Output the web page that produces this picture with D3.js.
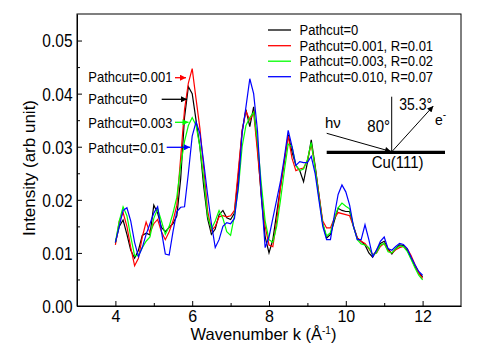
<!DOCTYPE html>
<html>
<head>
<meta charset="utf-8">
<script src="https://cdn.jsdelivr.net/npm/d3@7"></script>
<style>
  html, body { margin: 0; padding: 0; background: #fff; }
  svg { display: block; }
  text { font-family: Arial, "Liberation Sans", sans-serif; fill: #000; }
</style>
</head>
<body>
<svg id="chart" width="500" height="360"></svg>
<script>
// ---- data ----
const kValues = [4.0,4.1,4.2,4.3,4.4,4.5,4.6,4.7,4.8,4.9,5.0,5.1,5.2,5.3,5.4,5.5,5.6,5.7,5.8,5.9,
  6.0,6.1,6.2,6.3,6.4,6.5,6.6,6.7,6.8,6.9,7.0,7.1,7.2,7.3,7.4,7.5,7.6,7.7,7.8,7.9,
  8.0,8.1,8.2,8.3,8.4,8.5,8.6,8.7,8.8,8.9,9.0,9.1,9.2,9.3,9.4,9.5,9.6,9.7,9.8,9.9,
  10.0,10.1,10.2,10.3,10.4,10.5,10.6,10.7,10.8,10.9,11.0,11.1,11.2,11.3,11.4,11.5,11.6,11.7,11.8,11.9,12.0];

const pathcut0 = [0.0119,0.0150,0.0162,0.0135,0.0105,0.0090,0.0105,0.0133,0.0137,0.0134,
  0.0190,0.0175,0.0148,0.0140,0.0148,0.0155,0.0170,0.0240,0.0355,0.0413,
  0.0400,0.0350,0.0300,0.0225,0.0165,0.0135,0.0145,0.0172,0.0180,0.0166,
  0.0163,0.0175,0.0245,0.0330,0.0370,0.0338,0.0375,0.0300,0.0205,0.0130,
  0.0100,0.0125,0.0175,0.0225,0.0272,0.0323,0.0290,0.0265,0.0255,0.0234,
  0.0270,0.0313,0.0265,0.0210,0.0155,0.0128,0.0135,0.0160,0.0184,0.0180,
  0.0178,0.0178,0.0150,0.0128,0.0122,0.0115,0.0100,0.0092,0.0105,0.0118,
  0.0122,0.0108,0.0098,0.0108,0.0115,0.0114,0.0105,0.0090,0.0075,0.0063,0.0055];

const pathcut001 = [0.0115,0.0160,0.0176,0.0150,0.0110,0.0076,0.0090,0.0130,0.0158,0.0138,
  0.0155,0.0163,0.0140,0.0125,0.0140,0.0160,0.0190,0.0280,0.0370,0.0420,
  0.0447,0.0390,0.0335,0.0260,0.0180,0.0142,0.0150,0.0168,0.0170,0.0168,
  0.0170,0.0180,0.0255,0.0330,0.0367,0.0350,0.0365,0.0290,0.0210,0.0150,
  0.0115,0.0112,0.0160,0.0225,0.0275,0.0320,0.0278,0.0255,0.0258,0.0260,
  0.0275,0.0305,0.0262,0.0210,0.0160,0.0147,0.0147,0.0165,0.0176,0.0174,
  0.0172,0.0170,0.0150,0.0128,0.0122,0.0118,0.0108,0.0097,0.0100,0.0112,
  0.0118,0.0105,0.0100,0.0106,0.0110,0.0112,0.0108,0.0095,0.0078,0.0062,0.0052];

const pathcut003 = [0.0120,0.0160,0.0187,0.0170,0.0130,0.0095,0.0095,0.0110,0.0122,0.0130,
  0.0165,0.0183,0.0160,0.0135,0.0150,0.0175,0.0205,0.0265,0.0310,0.0340,
  0.0355,0.0340,0.0300,0.0240,0.0170,0.0145,0.0160,0.0180,0.0165,0.0140,
  0.0133,0.0170,0.0220,0.0300,0.0340,0.0355,0.0365,0.0310,0.0230,0.0160,
  0.0125,0.0120,0.0150,0.0200,0.0255,0.0305,0.0300,0.0265,0.0255,0.0258,
  0.0275,0.0308,0.0260,0.0205,0.0155,0.0132,0.0138,0.0165,0.0185,0.0194,
  0.0188,0.0183,0.0150,0.0125,0.0117,0.0115,0.0110,0.0096,0.0100,0.0115,
  0.0118,0.0102,0.0100,0.0108,0.0113,0.0112,0.0103,0.0088,0.0072,0.0058,0.0049];

const pathcut010 = [0.0120,0.0150,0.0180,0.0185,0.0160,0.0120,0.0093,0.0110,0.0135,0.0155,
  0.0175,0.0187,0.0140,0.0098,0.0096,0.0140,0.0178,0.0186,0.0187,0.0250,
  0.0320,0.0347,0.0325,0.0270,0.0210,0.0155,0.0110,0.0125,0.0150,0.0157,
  0.0155,0.0165,0.0225,0.0325,0.0375,0.0428,0.0400,0.0330,0.0210,0.0110,
  0.0130,0.0165,0.0200,0.0235,0.0280,0.0331,0.0300,0.0265,0.0272,0.0270,
  0.0270,0.0282,0.0250,0.0200,0.0150,0.0125,0.0125,0.0170,0.0210,0.0228,
  0.0215,0.0190,0.0150,0.0125,0.0125,0.0153,0.0125,0.0093,0.0105,0.0122,
  0.0130,0.0108,0.0105,0.0112,0.0118,0.0116,0.0108,0.0092,0.0078,0.0065,0.0058];

const seriesNames = ["Pathcut=0", "Pathcut=0.001, R=0.01", "Pathcut=0.003, R=0.02", "Pathcut=0.010, R=0.07"];
const seriesValues = [pathcut0, pathcut001, pathcut003, pathcut010];
const seriesColors = ["#000000", "#ff0000", "#00ff00", "#0000ff"];

const calloutLabels = ["Pathcut=0.001", "Pathcut=0", "Pathcut=0.003", "Pathcut=0.01"];
const calloutSeries = [1, 0, 2, 3];

const xMajorTicks = [4, 6, 8, 10, 12];
const xMinorTicks = [5, 7, 9, 11];
const yMajorTicks = [0, 0.01, 0.02, 0.03, 0.04, 0.05];
const yMinorTicks = [0.005, 0.015, 0.025, 0.035, 0.045];

// ---- layout ----
const svg = d3.select("#chart");
const L = 77, R = 461, T = 14, B = 306;
const x = d3.scaleLinear().domain([3, 13]).range([L, R]);
const y = d3.scaleLinear().domain([0, 0.055]).range([B, T]);

// text helper: text anchored at (px,py) and stretched vertically a little
function tallText(parent, px, py, size, sy, str) {
  return parent.append("text").attr("transform", `translate(${px},${py}) scale(1,${sy})`)
    .attr("font-size", size).text(str);
}

// frame
svg.append("rect").attr("x", L).attr("y", T).attr("width", R - L).attr("height", B - T)
  .attr("fill", "none").attr("stroke", "#000").attr("stroke-width", 1);

// axes
const gx = svg.append("g").attr("transform", `translate(0,${B})`)
  .call(d3.axisBottom(x).tickValues(xMajorTicks).tickSize(-5).tickSizeOuter(0).tickPadding(4).tickFormat(d3.format("d")));
svg.append("g").attr("transform", `translate(0,${B})`)
  .call(d3.axisBottom(x).tickValues(xMinorTicks).tickSize(-3).tickSizeOuter(0).tickFormat(""))
  .select(".domain").remove();
const gy = svg.append("g").attr("transform", `translate(${L},0)`)
  .call(d3.axisLeft(y).tickValues(yMajorTicks).tickSize(-5).tickSizeOuter(0).tickPadding(4).tickFormat(d3.format(".2f")));
svg.append("g").attr("transform", `translate(0,0)`);
svg.append("g").attr("transform", `translate(${L},0)`)
  .call(d3.axisLeft(y).tickValues(yMinorTicks).tickSize(-3).tickSizeOuter(0).tickFormat(""))
  .select(".domain").remove();

svg.selectAll(".tick line, .domain").attr("stroke", "#000").attr("stroke-width", 1);
gx.selectAll(".tick text").attr("font-size", 16).attr("font-family", "Arial, 'Liberation Sans', sans-serif")
  .attr("y", 4).attr("dy", "0.72em");
gy.selectAll(".tick text").attr("font-size", 15.5).attr("font-family", "Arial, 'Liberation Sans', sans-serif")
  .attr("x", -4.5).attr("y", 0).attr("dy", "0.36em").attr("transform", "scale(1,1.15)");

// axis titles
const xt = svg.append("text").attr("x", 263.5).attr("y", 339.5).attr("text-anchor", "middle").attr("font-size", 16.5);
xt.append("tspan").text("Wavenumber k (Å");
xt.append("tspan").attr("font-size", 10).attr("dy", -6).text("-1");
xt.append("tspan").attr("dy", 6).text(")");

svg.append("text").attr("transform", "translate(35,168) rotate(-90)")
  .attr("text-anchor", "middle").attr("font-size", 17).text("Intensity (arb unit)");

// lines
svg.append("clipPath").attr("id", "plotclip").append("rect")
  .attr("x", L).attr("y", T).attr("width", R - L).attr("height", B - T);
const line = d3.line().x((d, i) => x(kValues[i])).y(d => y(d));
seriesValues.forEach((vals, si) => {
  svg.append("path").datum(vals).attr("d", line)
    .attr("fill", "none").attr("stroke", seriesColors[si]).attr("stroke-width", 1.2)
    .attr("stroke-linejoin", "miter").attr("clip-path", "url(#plotclip)");
});

// legend
const legendY = [30, 45.7, 61.2, 76.7];
seriesNames.forEach((name, i) => {
  svg.append("line").attr("x1", 268).attr("x2", 291).attr("y1", legendY[i]).attr("y2", legendY[i])
    .attr("stroke", seriesColors[i]).attr("stroke-width", 1.3);
  tallText(svg, 299.5, legendY[i] + 5, 13, 1.08, name);
});

// arrow markers
const defs = svg.append("defs");
seriesColors.concat(["#000000"]).forEach((c, i) => {
  defs.append("marker").attr("id", "arr" + i).attr("viewBox", "0 0 10 10")
    .attr("refX", 10).attr("refY", 5).attr("markerWidth", 7).attr("markerHeight", 6)
    .attr("markerUnits", "userSpaceOnUse").attr("orient", "auto")
    .append("path").attr("d", "M0,0L10,5L0,10Z").attr("fill", c);
});

// callout labels with arrows
const calloutText = [[88.3, 81.7], [88.3, 104], [88.3, 128.3], [88.3, 152.7]];
const calloutArrow = [[175, 186, 77.7], [161.7, 187, 99.3], [175, 188.5, 122.3], [166.7, 190, 147.3]];
calloutLabels.forEach((lab, i) => {
  tallText(svg, calloutText[i][0], calloutText[i][1], 13, 1.1, lab);
  const si = calloutSeries[i];
  svg.append("line").attr("x1", calloutArrow[i][0]).attr("x2", calloutArrow[i][1])
    .attr("y1", calloutArrow[i][2]).attr("y2", calloutArrow[i][2])
    .attr("stroke", seriesColors[si]).attr("stroke-width", 1.3)
    .attr("marker-end", `url(#arr${si})`);
});

// inset geometry diagram
const inset = svg.append("g");
inset.append("line").attr("x1", 326.7).attr("x2", 445).attr("y1", 152.3).attr("y2", 152.3)
  .attr("stroke", "#000").attr("stroke-width", 3.2);
inset.append("line").attr("x1", 391.7).attr("x2", 391.7).attr("y1", 152).attr("y2", 96.7)
  .attr("stroke", "#000").attr("stroke-width", 1);
inset.append("line").attr("x1", 326.7).attr("y1", 133.3).attr("x2", 391).attr("y2", 151.5)
  .attr("stroke", "#000").attr("stroke-width", 1).attr("marker-end", "url(#arr4)");
inset.append("line").attr("x1", 392).attr("y1", 151.5).attr("x2", 433.3).attr("y2", 106)
  .attr("stroke", "#000").attr("stroke-width", 1).attr("marker-end", "url(#arr4)");
inset.append("text").attr("x", 325).attr("y", 128).attr("font-size", 15)
  .attr("font-family", "'Liberation Serif', 'DejaVu Serif', serif").text("hν");
tallText(inset, 367.3, 131.7, 15, 1.1, "80°");
tallText(inset, 399.3, 110, 14, 1.15, "35.3°");
const et = inset.append("text").attr("x", 435).attr("y", 125).attr("font-size", 14);
et.append("tspan").text("e");
et.append("tspan").attr("font-size", 10).attr("dy", -7).text("-");
tallText(inset, 371.7, 168.3, 15, 1.1, "Cu(111)");
</script>
</body>
</html>
